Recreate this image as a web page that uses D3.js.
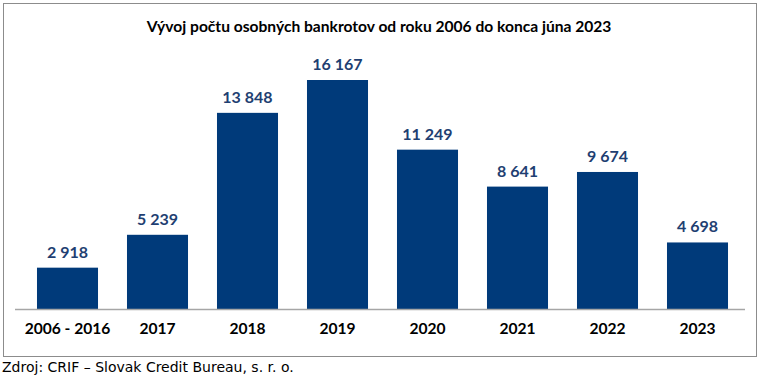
<!DOCTYPE html>
<html>
<head>
<meta charset="utf-8">
<script src="https://cdn.jsdelivr.net/npm/d3@7"></script>
<style>
	body { margin: 0; background: #fff; }
	svg text { font-family: Lato, "Open Sans", sans-serif; }
</style>
</head>
<body>
<div class="chart"></div>
<script>
// data
const categories = ['2006 - 2016', '2017', '2018', '2019', '2020', '2021', '2022', '2023'];
const values = [2918, 5239, 13848, 16167, 11249, 8641, 9674, 4698];
const title = 'Vývoj počtu osobných bankrotov od roku 2006 do konca júna 2023';
const source = 'Zdroj: CRIF – Slovak Credit Bureau, s. r. o.';

const outerW = 760,
	outerH = 377;

const svg = d3.select('.chart').append('svg')
	.attr('width', outerW)
	.attr('height', outerH);

// frame
svg.append('rect')
	.attr('x', 3.5).attr('y', 3.5)
	.attr('width', 753).attr('height', 353)
	.attr('fill', '#fff')
	.attr('stroke', '#8c8c8c');

svg.append('text')
	.attr('x', 379).attr('y', 32)
	.attr('text-anchor', 'middle')
	.style('font-size', '15.6px')
	.style('font-weight', 'bold')
	.text(title);

const x = d3.scaleBand()
	.domain(categories)
	.range([22.5, 742.5])
	.paddingInner(0.322)
	.paddingOuter(0.161);

const y = d3.scaleLinear()
	.domain([0, 16167])
	.range([309, 80]);

const fmt = v => d3.format(',')(v).replace(/,/g, ' ');

svg.selectAll('.bar')
	.data(values)
	.enter().append('rect')
	.attr('class', 'bar')
	.attr('x', (d, i) => x(categories[i]))
	.attr('y', d => y(d))
	.attr('width', x.bandwidth())
	.attr('height', d => y(0) - y(d))
	.attr('fill', '#003a7a');

svg.selectAll('.val')
	.data(values)
	.enter().append('text')
	.attr('class', 'val')
	.attr('x', (d, i) => x(categories[i]) + x.bandwidth() / 2)
	.attr('y', d => y(d) - 10)
	.attr('text-anchor', 'middle')
	.style('font-size', '16px')
	.style('font-weight', 'bold')
	.attr('fill', '#1f3f72')
	.text(fmt);

// baseline + category labels
const xAxis = svg.append('g')
	.attr('transform', `translate(0, ${y(0)})`)
	.call(d3.axisBottom(x).tickSize(0).tickPadding(14));

xAxis.select('.domain')
	.attr('d', 'M15,0.5H745')
	.attr('stroke', '#a6a6a6')
	.attr('stroke-width', 1.5);

xAxis.selectAll('text')
	.style('font-size', '15.6px')
	.style('font-weight', 'bold')
	.attr('fill', '#000');

svg.append('text')
	.attr('x', 2).attr('y', 372)
	.style('font-family', '"DejaVu Sans", sans-serif')
	.style('font-size', '14px')
	.attr('fill', '#000')
	.text(source);
</script>
</body>
</html>
